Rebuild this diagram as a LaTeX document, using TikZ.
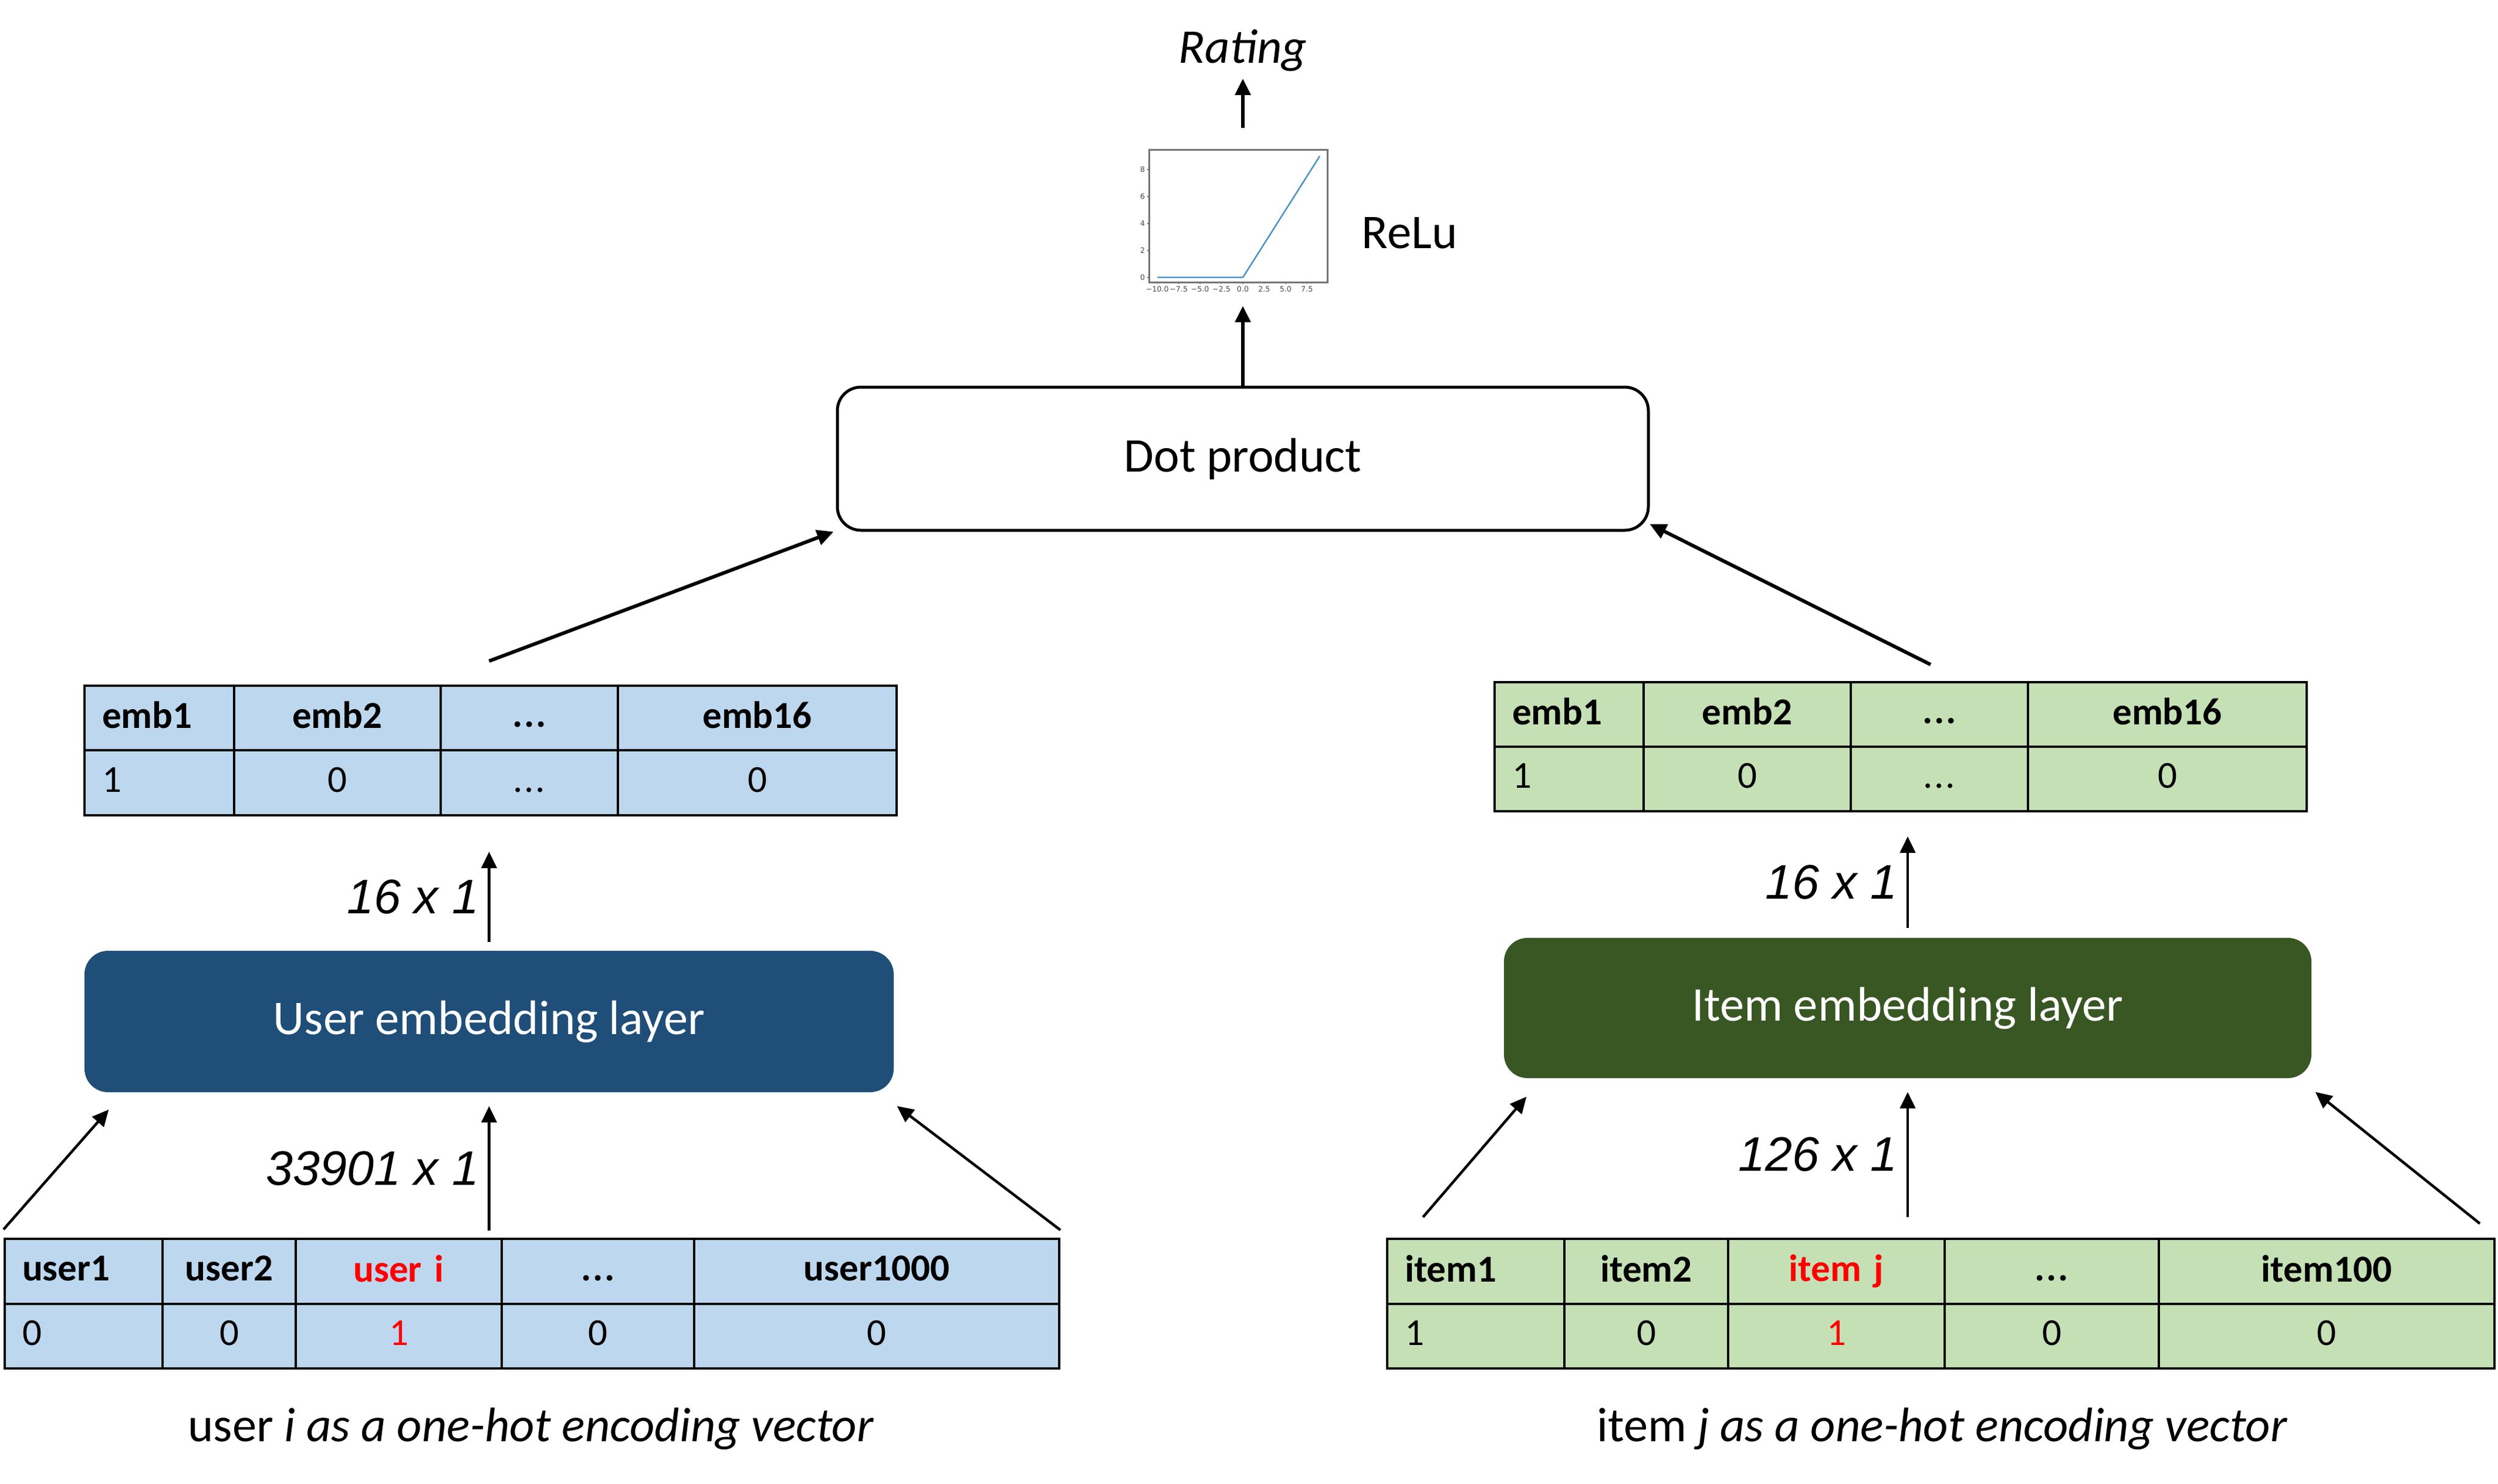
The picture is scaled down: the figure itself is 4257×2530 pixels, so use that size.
\documentclass[tikz,border=0pt]{standalone}
\usepackage{fontspec}
\setmainfont{Carlito}
\newfontfamily\dimfont{Liberation Sans}
\newfontfamily\tickfont{DejaVu Sans}
\usetikzlibrary{
	positioning,
	arrows.meta
}
\definecolor{lblue}{HTML}{BDD7EE}
\definecolor{lgreen}{HTML}{C5E0B4}
\definecolor{dblue}{HTML}{1F4E79}
\definecolor{dgreen}{HTML}{385723}
\definecolor{mplblue}{HTML}{1F77B4}
\newcommand{\bigfont}{\fontsize{23.5}{28}\selectfont}
\newcommand{\tabfont}{\fontsize{18.5}{22}\selectfont}
\newcommand{\etc}{.\kern0.04em.\kern0.04em.}
\tikzset{
	arr/.style={-{Triangle[length=2.8mm,width=2.6mm]}, line width=0.45mm},
	thickarr/.style={arr, line width=0.6mm},
	layer/.style={rounded corners=4mm, minimum width=138mm, minimum height=24.1mm, font=\bigfont},
	cell/.style={draw, line width=0.4mm, anchor=north west, inner xsep=3mm, inner ysep=0pt, font=\tabfont,
		execute at begin node={\rule[-3pt]{0pt}{15pt}}},
	dim/.style={font=\bigfont\dimfont\itshape, inner sep=1.5mm}
}

\begin{document}
\begin{tikzpicture}[x=0.1mm, y=-0.1mm]
	\useasboundingbox (0,0) rectangle (4257,2530);

	\node[layer, draw, line width=0.5mm, fill=white, minimum width=138.2mm, minimum height=24.4mm] (dot) at (2118,782) {Dot product};
	\node[layer, fill=dblue, text=white, minimum width=137.9mm] (user) at (833.5,1741.5) {User embedding layer};
	\node[layer, fill=dgreen, text=white, minimum width=137.6mm, minimum height=23.9mm] (item) at (3251,1718.5) {Item embedding layer};

	\node[draw=black!55, line width=0.3mm, minimum width=30.4mm, minimum height=22.6mm, inner sep=0pt] (relu) at (2110,369) {};
	\node[right=4.5mm of relu, yshift=-2.8mm, font=\bigfont] (relulabel) {ReLu};
	\node[font=\bigfont\itshape] (rating) at (2118,86) {Rating};

	\begin{scope}[shift={(2118,473)}, x=1.457mm, y=2.3mm, font=\tickfont\fontsize{3.6}{4}\selectfont]
		\draw[mplblue!80, line width=0.25mm] (-10,0) -- (0,0) -- (9,9);
		\foreach \v/\t in {-10/−10.0, -7.5/−7.5, -5/−5.0, -2.5/−2.5, 0/0.0, 2.5/2.5, 5/5.0, 7.5/7.5}
			\draw[black!55, line width=0.15mm] (\v,-0.39) -- (\v,-0.5) node[below, inner sep=0.3mm, black!70] {\t};
		\foreach \v in {0,2,...,8}
			\draw[black!55, line width=0.15mm] (-10.98,\v) -- (-11.2,\v) node[left, inner sep=0.3mm, black!70] {\v};
	\end{scope}

	\foreach \xa/\xb/\al/\hd/\vl [count=\i] in {
		142/397/left/emb1/1,
		397/749/center/emb2/0,
		749/1051/center/\etc/\etc,
		1051/1526/center/emb16/0}{
		\pgfmathsetlengthmacro\tw{(\xb-\xa)*0.1mm-6mm}
		\node[cell, fill=lblue, align=\al, text width=\tw, minimum height=11mm, font=\tabfont\bfseries] (ueh\i) at (\xa,1167) {\hd};
		\node[cell, fill=lblue, align=\al, text width=\tw, minimum height=11.1mm] (uev\i) at (\xa,1277) {\vl};
	}
	\foreach \xa/\xb/\al/\hd/\vl [count=\i] in {
		2545/2799/left/emb1/1,
		2799/3152/center/emb2/0,
		3152/3454/center/\etc/\etc,
		3454/3929/center/emb16/0}{
		\pgfmathsetlengthmacro\tw{(\xb-\xa)*0.1mm-6mm}
		\node[cell, fill=lgreen, align=\al, text width=\tw, minimum height=11mm, font=\tabfont\bfseries] (ieh\i) at (\xa,1161) {\hd};
		\node[cell, fill=lgreen, align=\al, text width=\tw, minimum height=11mm] (iev\i) at (\xa,1271) {\vl};
	}
	\foreach \xa/\xb/\al/\hd/\vl/\tc [count=\i] in {
		6/275/left/user1/0/black,
		275/502/center/user2/0/black,
		502/853/center/user i/1/red,
		853/1181/center/\etc/0/black,
		1181/1803/center/user1000/0/black}{
		\pgfmathsetlengthmacro\tw{(\xb-\xa)*0.1mm-6mm}
		\node[cell, fill=lblue, text=\tc, align=\al, text width=\tw, minimum height=11.1mm, font=\tabfont\bfseries] (uh\i) at (\xa,2110) {\hd};
		\node[cell, fill=lblue, text=\tc, align=\al, text width=\tw, minimum height=11mm] (uv\i) at (\xa,2221) {\vl};
	}
	\foreach \xa/\xb/\al/\hd/\vl/\tc [count=\i] in {
		2362/2664/left/item1/1/black,
		2664/2943/center/item2/0/black,
		2943/3312/center/item j/1/red,
		3312/3677/center/\etc/0/black,
		3677/4249/center/item100/0/black}{
		\pgfmathsetlengthmacro\tw{(\xb-\xa)*0.1mm-6mm}
		\node[cell, fill=lgreen, text=\tc, align=\al, text width=\tw, minimum height=11.1mm, font=\tabfont\bfseries] (ih\i) at (\xa,2110) {\hd};
		\node[cell, fill=lgreen, text=\tc, align=\al, text width=\tw, minimum height=11mm] (iv\i) at (\xa,2221) {\vl};
	}

	\node[font=\bigfont] (usercap) at (905,2436) {user \textit{i as a one-hot encoding vector}};
	\node[font=\bigfont] (itemcap) at (3310,2436) {item \textit{j as a one-hot encoding vector}};

	\draw[arr] ([yshift=1.4mm]uh1.north west) -- ([shift={(4.2mm,-2.9mm)}]user.south west);
	\draw[arr] ([yshift=1.2mm]uh1.north -| user.south) -- node[dim, left] {33901 x 1} ([yshift=-2.3mm]user.south);
	\draw[arr] ([yshift=1.3mm]uh5.north east) -- ([shift={(0.5mm,-2.3mm)}]user.south east);
	\draw[arr] ([yshift=1.4mm]user.north) -- node[dim, left] {16 x 1} ([yshift=-6mm]uev1.south -| user.north);

	\draw[arr] ([shift={(6.3mm,3.5mm)}]ih1.north west) -- ([shift={(3.9mm,-3.1mm)}]item.south west);
	\draw[arr] ([yshift=3.5mm]ih1.north -| item.south) -- node[dim, left] {126 x 1} ([yshift=-2.3mm]item.south);
	\draw[arr] ([shift={(-2.7mm,2.4mm)}]ih5.north east) -- ([shift={(0.6mm,-2.3mm)}]item.south east);
	\draw[arr] ([yshift=1.6mm]item.north) -- node[dim, left] {16 x 1} ([yshift=-4.1mm]iev1.south -| item.north);

	\draw[thickarr] ([yshift=4mm]ueh1.north -| user.north) -- ([xshift=-0.4mm]dot.south west);
	\draw[thickarr] ([shift={(3.9mm,2.8mm)}]ieh1.north -| item.north) -- ([yshift=1.3mm]dot.south east);
	\draw[thickarr] (dot.north) -- ([yshift=-3.8mm]relu.south -| dot.north);
	\draw[thickarr] ([yshift=3.6mm]relu.north -| dot.north) -- (rating.south -| dot.north);
\end{tikzpicture}
\end{document}
